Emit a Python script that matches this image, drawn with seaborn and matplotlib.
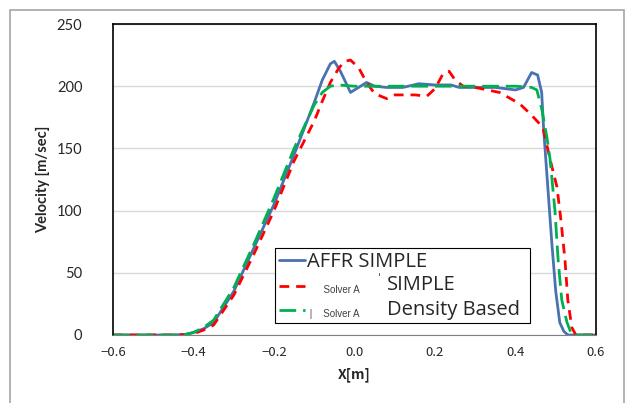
import numpy as np
import pandas as pd
import seaborn as sns
import matplotlib.pyplot as plt
from matplotlib.patches import Rectangle

# velocity profiles
x_affr = [-0.6, -0.5, -0.45, -0.42, -0.4, -0.375, -0.35, -0.3, -0.25, -0.2, -0.15, -0.1, -0.08,
          -0.06, -0.05, -0.035, -0.01, 0.01, 0.03, 0.05, 0.08, 0.12, 0.16, 0.2, 0.24, 0.26, 0.3,
          0.35, 0.4, 0.42, 0.44, 0.455, 0.465, 0.47, 0.48, 0.49, 0.5, 0.51, 0.52, 0.53, 0.6]
v_affr = [0, 0, 0, 0.5, 2, 5, 10, 35, 70, 105, 145, 187, 205,
          218, 220, 212, 195, 199, 203, 200, 199, 199, 202, 201, 201, 199, 199,
          199, 197, 199, 211, 209, 195, 165, 120, 75, 35, 10, 3, 0, 0]

x_simple = [-0.6, -0.5, -0.45, -0.42, -0.4, -0.375, -0.35, -0.3, -0.25, -0.2, -0.15, -0.1, -0.08,
            -0.06, -0.04, -0.025, -0.01, 0.01, 0.03, 0.05, 0.08, 0.1, 0.15, 0.18, 0.2, 0.22, 0.235,
            0.25, 0.27, 0.3, 0.36, 0.41, 0.436, 0.468, 0.486, 0.503, 0.513, 0.523, 0.53, 0.54,
            0.55, 0.6]
v_simple = [0, 0, 0, 0.3, 1, 4, 8, 32, 65, 100, 140, 172, 188,
            203, 214, 220, 221, 215, 203, 194, 190, 193, 193, 192, 198, 210, 212,
            205, 200, 199, 195, 186, 178, 167, 141, 119, 92, 60, 28, 6,
            0, 0]

x_density = [-0.6, -0.5, -0.45, -0.42, -0.4, -0.375, -0.35, -0.3, -0.25, -0.2, -0.15, -0.1, -0.08,
             -0.06, -0.04, 0.0, 0.1, 0.2, 0.3, 0.4, 0.44, 0.453, 0.465, 0.478, 0.486, 0.498,
             0.506, 0.515, 0.528, 0.54, 0.6]
v_density = [0, 0, 0, 0.5, 2, 6, 12, 38, 73, 110, 150, 185, 195,
             200, 201, 200, 200, 200, 200, 200, 199, 197, 182, 159, 141, 100,
             60, 28, 10, 0, 0]

x_ticks = [-0.6, -0.4, -0.2, 0.0, 0.2, 0.4, 0.6]
y_ticks = [0, 50, 100, 150, 200, 250]

df = pd.concat([
    pd.DataFrame({"x": x_affr, "v": v_affr, "case": "AFFR SIMPLE"}),
    pd.DataFrame({"x": x_simple, "v": v_simple, "case": "Solver A SIMPLE"}),
    pd.DataFrame({"x": x_density, "v": v_density, "case": "Solver A Density Based"}),
])

sns.set_style("white")
plt.rcParams['font.family'] = ['Lato', 'DejaVu Sans']

fig = plt.figure(figsize=(6.25, 4.03), dpi=100)
ax = fig.add_axes([113 / 625, (403 - 335) / 403, 483 / 625, 311 / 403])

# outer chart frame
fig.patches.append(Rectangle((10 / 625, -0.05), 614 / 625, (403 - 10) / 403 + 0.05,
                             transform=fig.transFigure, fill=False, edgecolor="#a6a6a6", lw=1.2))

palette = {"AFFR SIMPLE": "#4a72b0", "Solver A SIMPLE": "#ff0000",
           "Solver A Density Based": "#00b050"}
dashes = {"AFFR SIMPLE": None, "Solver A SIMPLE": (3.5, 2.5),
          "Solver A Density Based": (6, 2.5)}

lines = []
for case in ["AFFR SIMPLE", "Solver A SIMPLE", "Solver A Density Based"]:
    d = df[df.case == case]
    sns.lineplot(data=d, x="x", y="v", ax=ax, color=palette[case], lw=2, label=case)
    ln = ax.get_lines()[-1]
    if dashes[case] is not None:
        ln.set_dashes(dashes[case])
    lines.append(ln)

ax.set_xlim(-0.6, 0.6)
ax.set_ylim(0, 250)
ax.set_xticks(x_ticks)
ax.set_yticks(y_ticks)
ax.set_xticklabels([f"{t:.1f}".replace("-", "\u2212") for t in x_ticks],
                   fontfamily=['Noto Sans CJK JP', 'DejaVu Sans'], fontsize=9.5)
ax.set_yticklabels([str(t) for t in y_ticks], fontsize=10.5)
ax.yaxis.grid(True, color="#d9d9d9", lw=1)
ax.xaxis.grid(False)
for s in ["left", "top", "right"]:
    ax.spines[s].set_color("black")
    ax.spines[s].set_linewidth(1.2)
ax.spines["bottom"].set_color("#808080")
ax.tick_params(axis="x", direction="in", length=4, color="#a0a0a0", pad=8)
ax.tick_params(axis="y", length=0, pad=22)

ax.set_xlabel("X[m]", fontweight="bold", fontsize=10,
              fontfamily=['Noto Sans CJK JP', 'DejaVu Sans'], labelpad=6)
ax.set_ylabel("Velocity [m/sec]", fontweight="bold", fontsize=10.5, labelpad=5)

big_font = ['Open Sans', 'DejaVu Sans']
leg = ax.legend(lines, ["AFFR SIMPLE", "      Solver A", " |    Solver A"],
                loc="lower left", bbox_to_anchor=(0.335, 0.0386, 0.528, 0.28), mode="expand",
                fancybox=False, framealpha=1, edgecolor="black",
                prop={"family": big_font, "size": 14.5},
                handlelength=1.3, handletextpad=0.1, labelspacing=0.37, borderpad=0.2,
                borderaxespad=0)
leg.get_frame().set_linewidth(0.8)
for t in leg.get_texts()[1:]:
    t.set_fontsize(7)
    t.set_color("#404040")
    t.set_fontfamily(['Liberation Sans', 'DejaVu Sans'])

ax.text(0.549, 0.199, "\u02c8", transform=ax.transAxes, fontsize=8,
        fontfamily=['DejaVu Sans'], va="top", ha="left", zorder=10)
ax.text(0.567, 0.161, "SIMPLE", transform=ax.transAxes, fontsize=14.5,
        fontfamily=big_font, va="center", ha="left", zorder=10)
ax.text(0.567, 0.080, "Density Based", transform=ax.transAxes, fontsize=14.5,
        fontfamily=big_font, va="center", ha="left", zorder=10)

fig.savefig("out.png", dpi=100, facecolor="white")
